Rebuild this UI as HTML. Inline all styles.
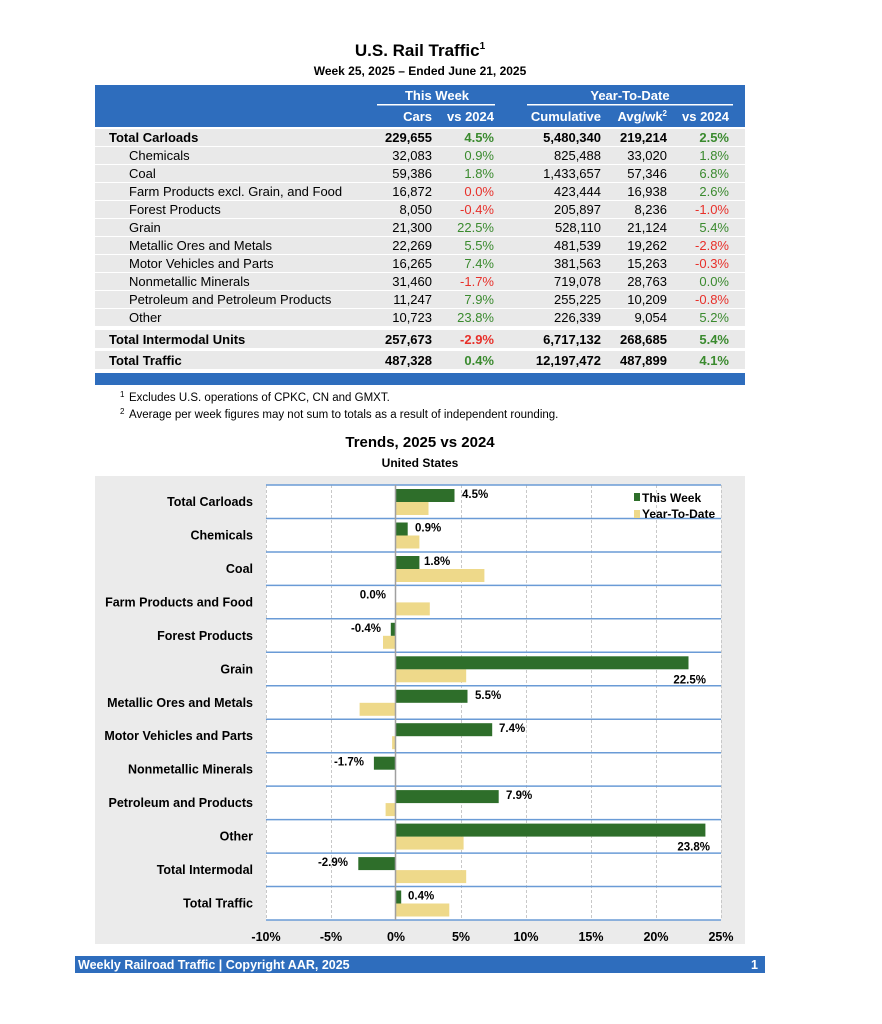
<!DOCTYPE html>
<html><head><meta charset="utf-8"><style>
html,body{margin:0;padding:0;background:#fff;}
svg{display:block;font-family:"Liberation Sans",Arial,sans-serif;}
</style></head><body>
<svg width="882" height="1024" viewBox="0 0 882 1024" xmlns="http://www.w3.org/2000/svg">
<rect width="882" height="1024" fill="#fff"/>
<text x="420" y="56" text-anchor="middle" font-size="17" font-weight="bold">U.S. Rail Traffic<tspan font-size="10" dy="-7">1</tspan></text>
<text x="420" y="75" text-anchor="middle" font-size="12" font-weight="bold">Week 25, 2025 – Ended June 21, 2025</text>

<rect x="95" y="85" width="650" height="42" fill="#2e6dbd"/>
<g fill="#fff" font-weight="bold" font-size="13">
<text x="437" y="100" text-anchor="middle">This Week</text>
<text x="630" y="100" text-anchor="middle">Year-To-Date</text>
<text x="432" y="121" text-anchor="end">Cars</text>
<text x="494" y="121" text-anchor="end">vs 2024</text>
<text x="601" y="121" text-anchor="end">Cumulative</text>
<text x="667" y="121" text-anchor="end">Avg/wk<tspan font-size="8" dy="-5">2</tspan></text>
<text x="729" y="121" text-anchor="end" dy="0">vs 2024</text>
</g>
<rect x="377" y="104" width="118" height="1.5" fill="#fff"/>
<rect x="527" y="104" width="206" height="1.5" fill="#fff"/>

<g fill="#e9e9e9">
<rect x="95" y="129" width="650" height="17"/>
<rect x="95" y="147" width="650" height="17"/>
<rect x="95" y="165" width="650" height="17"/>
<rect x="95" y="183" width="650" height="17"/>
<rect x="95" y="201" width="650" height="17"/>
<rect x="95" y="219" width="650" height="17"/>
<rect x="95" y="237" width="650" height="17"/>
<rect x="95" y="255" width="650" height="17"/>
<rect x="95" y="273" width="650" height="17"/>
<rect x="95" y="291" width="650" height="17"/>
<rect x="95" y="309" width="650" height="17"/>
<rect x="95" y="330" width="650" height="18"/>
<rect x="95" y="351" width="650" height="18"/>
</g>
<rect x="95" y="373" width="650" height="12" fill="#2e6dbd"/>

<g font-size="13">
<g font-weight="bold">
<text x="109" y="142">Total Carloads</text>
<text x="432" y="142" text-anchor="end">229,655</text>
<text x="494" y="142" text-anchor="end" fill="#3a8a2e">4.5%</text>
<text x="601" y="142" text-anchor="end">5,480,340</text>
<text x="667" y="142" text-anchor="end">219,214</text>
<text x="729" y="142" text-anchor="end" fill="#3a8a2e">2.5%</text>
</g>
<text x="129" y="160">Chemicals</text><text x="432" y="160" text-anchor="end">32,083</text><text x="494" y="160" text-anchor="end" fill="#3a8a2e">0.9%</text><text x="601" y="160" text-anchor="end">825,488</text><text x="667" y="160" text-anchor="end">33,020</text><text x="729" y="160" text-anchor="end" fill="#3a8a2e">1.8%</text>
<text x="129" y="178">Coal</text><text x="432" y="178" text-anchor="end">59,386</text><text x="494" y="178" text-anchor="end" fill="#3a8a2e">1.8%</text><text x="601" y="178" text-anchor="end">1,433,657</text><text x="667" y="178" text-anchor="end">57,346</text><text x="729" y="178" text-anchor="end" fill="#3a8a2e">6.8%</text>
<text x="129" y="196">Farm Products excl. Grain, and Food</text><text x="432" y="196" text-anchor="end">16,872</text><text x="494" y="196" text-anchor="end" fill="#e8302a">0.0%</text><text x="601" y="196" text-anchor="end">423,444</text><text x="667" y="196" text-anchor="end">16,938</text><text x="729" y="196" text-anchor="end" fill="#3a8a2e">2.6%</text>
<text x="129" y="214">Forest Products</text><text x="432" y="214" text-anchor="end">8,050</text><text x="494" y="214" text-anchor="end" fill="#e8302a">-0.4%</text><text x="601" y="214" text-anchor="end">205,897</text><text x="667" y="214" text-anchor="end">8,236</text><text x="729" y="214" text-anchor="end" fill="#e8302a">-1.0%</text>
<text x="129" y="232">Grain</text><text x="432" y="232" text-anchor="end">21,300</text><text x="494" y="232" text-anchor="end" fill="#3a8a2e">22.5%</text><text x="601" y="232" text-anchor="end">528,110</text><text x="667" y="232" text-anchor="end">21,124</text><text x="729" y="232" text-anchor="end" fill="#3a8a2e">5.4%</text>
<text x="129" y="250">Metallic Ores and Metals</text><text x="432" y="250" text-anchor="end">22,269</text><text x="494" y="250" text-anchor="end" fill="#3a8a2e">5.5%</text><text x="601" y="250" text-anchor="end">481,539</text><text x="667" y="250" text-anchor="end">19,262</text><text x="729" y="250" text-anchor="end" fill="#e8302a">-2.8%</text>
<text x="129" y="268">Motor Vehicles and Parts</text><text x="432" y="268" text-anchor="end">16,265</text><text x="494" y="268" text-anchor="end" fill="#3a8a2e">7.4%</text><text x="601" y="268" text-anchor="end">381,563</text><text x="667" y="268" text-anchor="end">15,263</text><text x="729" y="268" text-anchor="end" fill="#e8302a">-0.3%</text>
<text x="129" y="286">Nonmetallic Minerals</text><text x="432" y="286" text-anchor="end">31,460</text><text x="494" y="286" text-anchor="end" fill="#e8302a">-1.7%</text><text x="601" y="286" text-anchor="end">719,078</text><text x="667" y="286" text-anchor="end">28,763</text><text x="729" y="286" text-anchor="end" fill="#3a8a2e">0.0%</text>
<text x="129" y="304">Petroleum and Petroleum Products</text><text x="432" y="304" text-anchor="end">11,247</text><text x="494" y="304" text-anchor="end" fill="#3a8a2e">7.9%</text><text x="601" y="304" text-anchor="end">255,225</text><text x="667" y="304" text-anchor="end">10,209</text><text x="729" y="304" text-anchor="end" fill="#e8302a">-0.8%</text>
<text x="129" y="322">Other</text><text x="432" y="322" text-anchor="end">10,723</text><text x="494" y="322" text-anchor="end" fill="#3a8a2e">23.8%</text><text x="601" y="322" text-anchor="end">226,339</text><text x="667" y="322" text-anchor="end">9,054</text><text x="729" y="322" text-anchor="end" fill="#3a8a2e">5.2%</text>
<g font-weight="bold">
<text x="109" y="344">Total Intermodal Units</text><text x="432" y="344" text-anchor="end">257,673</text><text x="494" y="344" text-anchor="end" fill="#e8302a">-2.9%</text><text x="601" y="344" text-anchor="end">6,717,132</text><text x="667" y="344" text-anchor="end">268,685</text><text x="729" y="344" text-anchor="end" fill="#3a8a2e">5.4%</text>
<text x="109" y="365">Total Traffic</text><text x="432" y="365" text-anchor="end">487,328</text><text x="494" y="365" text-anchor="end" fill="#3a8a2e">0.4%</text><text x="601" y="365" text-anchor="end">12,197,472</text><text x="667" y="365" text-anchor="end">487,899</text><text x="729" y="365" text-anchor="end" fill="#3a8a2e">4.1%</text>
</g>
</g>

<g font-size="11.5">
<text x="120" y="397" font-size="8">1</text><text x="129" y="401">Excludes U.S. operations of CPKC, CN and GMXT.</text>
<text x="120" y="414" font-size="8">2</text><text x="129" y="418">Average per week figures may not sum to totals as a result of independent rounding.</text>
</g>

<text x="420" y="447" text-anchor="middle" font-size="15" font-weight="bold">Trends, 2025 vs 2024</text>
<text x="420" y="467" text-anchor="middle" font-size="12" font-weight="bold">United States</text>

<rect x="95" y="476" width="650" height="468" fill="#ebebeb"/>
<rect x="266" y="485" width="455" height="435" fill="#fff"/>
<g stroke="#c8c8c8" stroke-dasharray="3,2" stroke-width="1">
<line x1="266.5" y1="485" x2="266.5" y2="920"/>
<line x1="331.5" y1="485" x2="331.5" y2="920"/>
<line x1="461.5" y1="485" x2="461.5" y2="920"/>
<line x1="526.5" y1="485" x2="526.5" y2="920"/>
<line x1="591.5" y1="485" x2="591.5" y2="920"/>
<line x1="656.5" y1="485" x2="656.5" y2="920"/>
<line x1="721.5" y1="485" x2="721.5" y2="920"/>
</g>
<g stroke="#6a9bd6" stroke-width="1.5">
<line x1="266" y1="485" x2="721" y2="485"/>
<line x1="266" y1="518.5" x2="721" y2="518.5"/>
<line x1="266" y1="552" x2="721" y2="552"/>
<line x1="266" y1="585.4" x2="721" y2="585.4"/>
<line x1="266" y1="618.8" x2="721" y2="618.8"/>
<line x1="266" y1="652.3" x2="721" y2="652.3"/>
<line x1="266" y1="685.8" x2="721" y2="685.8"/>
<line x1="266" y1="719.2" x2="721" y2="719.2"/>
<line x1="266" y1="752.7" x2="721" y2="752.7"/>
<line x1="266" y1="786.1" x2="721" y2="786.1"/>
<line x1="266" y1="819.6" x2="721" y2="819.6"/>
<line x1="266" y1="853.1" x2="721" y2="853.1"/>
<line x1="266" y1="886.5" x2="721" y2="886.5"/>
<line x1="266" y1="920" x2="721" y2="920"/>
</g>

<g fill="#eed98a">
<rect x="396" y="502" width="32.5" height="13"/>
<rect x="396" y="535.5" width="23.4" height="13"/>
<rect x="396" y="569" width="88.4" height="13"/>
<rect x="396" y="602.4" width="33.8" height="13"/>
<rect x="383" y="635.8" width="13" height="13"/>
<rect x="396" y="669.3" width="70.2" height="13"/>
<rect x="359.6" y="702.8" width="36.4" height="13"/>
<rect x="392.1" y="736.2" width="3.9" height="13"/>
<rect x="385.6" y="803.1" width="10.4" height="13"/>
<rect x="396" y="836.6" width="67.6" height="13"/>
<rect x="396" y="870.1" width="70.2" height="13"/>
<rect x="396" y="903.5" width="53.3" height="13"/>
</g>
<g fill="#2e6e2a">
<rect x="396" y="489" width="58.5" height="13"/>
<rect x="396" y="522.5" width="11.7" height="13"/>
<rect x="396" y="556" width="23.4" height="13"/>
<rect x="390.8" y="622.8" width="5.2" height="13"/>
<rect x="396" y="656.3" width="292.5" height="13"/>
<rect x="396" y="689.8" width="71.5" height="13"/>
<rect x="396" y="723.2" width="96.2" height="13"/>
<rect x="373.9" y="756.7" width="22.1" height="13"/>
<rect x="396" y="790.1" width="102.7" height="13"/>
<rect x="396" y="823.6" width="309.4" height="13"/>
<rect x="358.3" y="857.1" width="37.7" height="13"/>
<rect x="396" y="890.5" width="5.2" height="13"/>
</g>
<line x1="395.5" y1="485" x2="395.5" y2="920" stroke="#a0a0a0" stroke-width="1.5"/>

<g font-size="11.5" font-weight="bold">
<text x="462" y="498">4.5%</text>
<text x="415" y="531.5">0.9%</text>
<text x="424" y="565">1.8%</text>
<text x="386" y="598.4" text-anchor="end">0.0%</text>
<text x="381" y="631.8" text-anchor="end">-0.4%</text>
<text x="706" y="683.3" text-anchor="end">22.5%</text>
<text x="475" y="698.8">5.5%</text>
<text x="499" y="732.2">7.4%</text>
<text x="364" y="765.7" text-anchor="end">-1.7%</text>
<text x="506" y="799.1">7.9%</text>
<text x="710" y="850.6" text-anchor="end">23.8%</text>
<text x="348" y="866.1" text-anchor="end">-2.9%</text>
<text x="408" y="899.5">0.4%</text>
</g>

<g font-size="12.5" font-weight="bold" text-anchor="end">
<text x="253" y="506">Total Carloads</text>
<text x="253" y="539.5">Chemicals</text>
<text x="253" y="573">Coal</text>
<text x="253" y="606.4">Farm Products and Food</text>
<text x="253" y="639.8">Forest Products</text>
<text x="253" y="673.3">Grain</text>
<text x="253" y="706.8">Metallic Ores and Metals</text>
<text x="253" y="740.2">Motor Vehicles and Parts</text>
<text x="253" y="773.7">Nonmetallic Minerals</text>
<text x="253" y="807.1">Petroleum and Products</text>
<text x="253" y="840.6">Other</text>
<text x="253" y="874.1">Total Intermodal</text>
<text x="253" y="907.5">Total Traffic</text>
</g>

<rect x="634" y="493" width="6" height="8" fill="#2e6e2a"/>
<text x="642" y="502" font-size="12" font-weight="bold">This Week</text>
<rect x="634" y="510" width="6" height="8" fill="#eed98a"/>
<text x="642" y="518" font-size="12" font-weight="bold">Year-To-Date</text>

<g font-size="12.5" font-weight="bold" text-anchor="middle">
<text x="266" y="941">-10%</text>
<text x="331" y="941">-5%</text>
<text x="396" y="941">0%</text>
<text x="461" y="941">5%</text>
<text x="526" y="941">10%</text>
<text x="591" y="941">15%</text>
<text x="656" y="941">20%</text>
<text x="721" y="941">25%</text>
</g>

<rect x="75" y="956" width="690" height="17" fill="#2e6dbd"/>
<text x="78" y="969" font-size="12.5" font-weight="bold" fill="#fff">Weekly Railroad Traffic | Copyright AAR, 2025</text>
<text x="758" y="969" font-size="12.5" font-weight="bold" fill="#fff" text-anchor="end">1</text>
</svg>
</body></html>
